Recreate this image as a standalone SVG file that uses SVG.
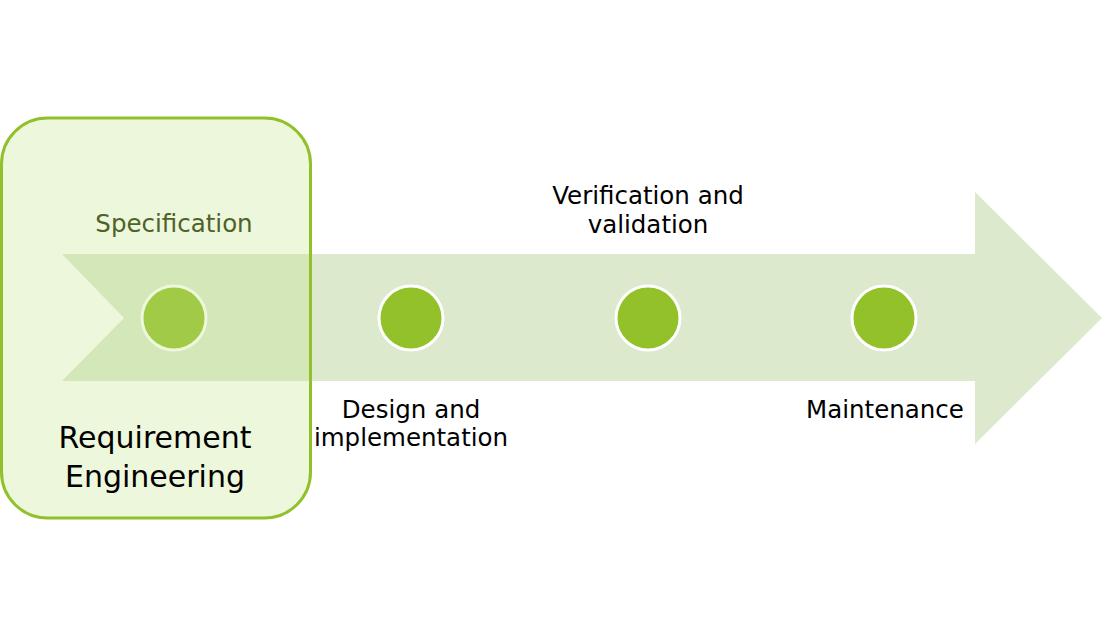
<svg xmlns="http://www.w3.org/2000/svg" width="1102" height="636" viewBox="0 0 1102 636">
<style>
.lbl{font-family:"DejaVu Sans",Verdana,sans-serif;font-size:24.5px;fill:#000;text-anchor:middle}
.big{font-size:30px}
.spec{fill:#4f6228}
.dot{fill:#93c12a;stroke:#fff;stroke-width:3}
</style>
<rect width="1102" height="636" fill="#fff"/>
<g id="arrow">
<polygon points="62,254 975,254 975,192 1102,318 975,444 975,381 62,381 124,318" fill="#dce9cd"/>
</g>
<g id="dots">
<circle id="n1" class="dot" cx="174" cy="318" r="32"/>
<circle id="n2" class="dot" cx="411" cy="318" r="32"/>
<circle id="n3" class="dot" cx="648" cy="318" r="32"/>
<circle id="n4" class="dot" cx="884" cy="318" r="32"/>
</g>
<g id="req-box">
<rect x="1.5" y="118" width="309" height="400" rx="46" fill="#c4e48a" fill-opacity="0.3" stroke="#92c02a" stroke-width="3"/>
</g>
<g id="labels">
<text class="lbl spec" x="174" y="232">Specification</text>
<text class="lbl" x="648" y="204">Verification and</text>
<text class="lbl" x="648" y="233">validation</text>
<text class="lbl" x="411" y="418">Design and</text>
<text class="lbl" x="411" y="446">implementation</text>
<text class="lbl" x="885" y="418">Maintenance</text>
<text class="lbl big" x="155" y="448">Requirement</text>
<text class="lbl big" x="155" y="487">Engineering</text>
</g>
</svg>
